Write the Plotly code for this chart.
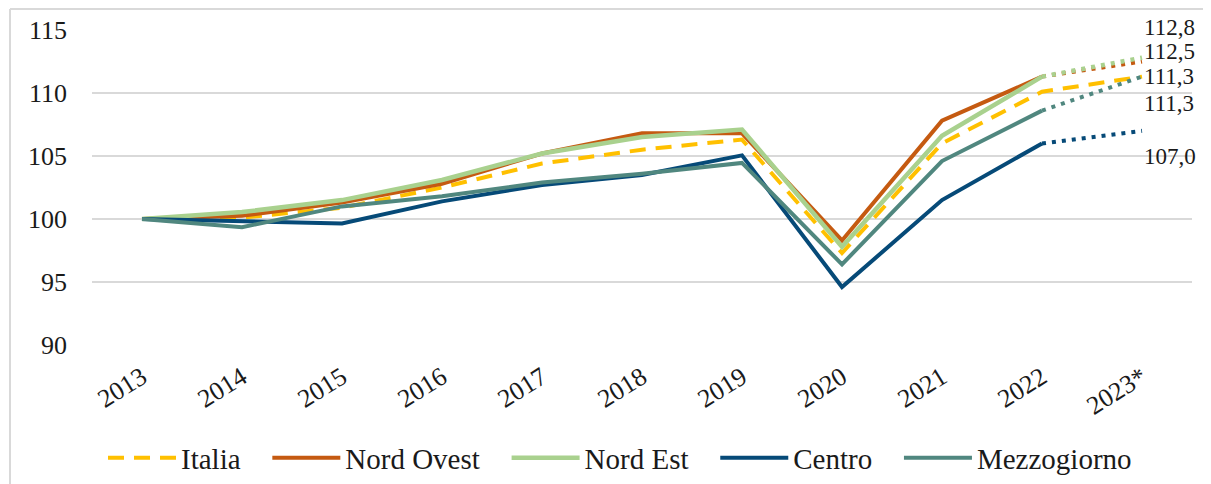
import plotly.graph_objects as go

anni = ["2013", "2014", "2015", "2016", "2017", "2018", "2019", "2020", "2021", "2022", "2023*"]

italia = [100, 100.1, 100.9, 102.5, 104.4, 105.5, 106.3, 97.3, 106.0, 110.1, 111.3]
nord_ovest = [100, 100.25, 101.3, 102.8, 105.2, 106.8, 106.8, 98.3, 107.8, 111.3, 112.5]
nord_est = [100, 100.55, 101.5, 103.1, 105.2, 106.5, 107.1, 97.8, 106.6, 111.3, 112.8]
centro = [100, 99.8, 99.65, 101.4, 102.7, 103.5, 105.05, 94.6, 101.5, 106.0, 107.0]
mezzogiorno = [100, 99.35, 101.0, 101.8, 102.9, 103.6, 104.45, 96.4, 104.6, 108.6, 111.3]

tick_y = [90, 95, 100, 105, 110, 115]

FONT = "Liberation Serif"
TXT = "#1a1a1a"

serie = [
    ("Italia", italia, "#FFC000", 4, "16px,10px"),
    ("Nord Ovest", nord_ovest, "#C55A11", 4, "solid"),
    ("Nord Est", nord_est, "#A9D18E", 4.5, "solid"),
    ("Centro", centro, "#064A78", 4, "solid"),
    ("Mezzogiorno", mezzogiorno, "#50877F", 4, "solid"),
]

# label spostate a mano come nell'originale
spost_label = {"Italia": 0, "Nord Ovest": 10, "Nord Est": 30, "Centro": -26, "Mezzogiorno": -27}

# la pagina html ha 8px di margine sul body: tutto spostato di 8
OFF = 8
W, H = 1211 - OFF, 484 - OFF
L, R, T, B = 92 - OFF, 1192 - OFF, 30 - OFF, 345 - OFF

fig = go.Figure()

spazio = "\u00a0\u00a0\u00a0"
for nome, valori, colore, spess, tratto in serie:
    if tratto == "solid":
        # parte consolidata piena, stima 2023 puntinata
        fig.add_trace(go.Scatter(x=anni[:-1], y=valori[:-1], mode="lines", name=nome + spazio,
                                 line=dict(color=colore, width=spess)))
        fig.add_trace(go.Scatter(x=anni[-2:], y=valori[-2:], mode="lines", showlegend=False,
                                 hoverinfo="skip",
                                 line=dict(color=colore, width=spess, dash="4px,6px")))
    else:
        fig.add_trace(go.Scatter(x=anni, y=valori, mode="lines", name=nome + spazio,
                                 line=dict(color=colore, width=spess, dash=tratto)))

for nome, valori, colore, spess, tratto in serie:
    fig.add_annotation(x=anni[-1], y=valori[-1], xref="x", yref="y",
                       text=f"{valori[-1]:.1f}".replace(".", ","),
                       showarrow=False, xanchor="left", yanchor="middle",
                       xshift=1, yshift=spost_label[nome], borderpad=0,
                       font=dict(family=FONT, size=23, color=TXT))

# cornice e pezzo di tabella sopra
def px_x(p):
    return (p - OFF - L) / (R - L)

def px_y(p):
    return (B - (p - OFF)) / (B - T)

bordo = "#D9D9D9"
fig.add_shape(type="line", xref="paper", yref="paper", x0=px_x(10), x1=px_x(1211),
              y0=px_y(9), y1=px_y(9), line=dict(color=bordo, width=2))
fig.add_shape(type="line", xref="paper", yref="paper", x0=px_x(10), x1=px_x(10),
              y0=px_y(9), y1=px_y(484), line=dict(color=bordo, width=2))
fig.add_shape(type="line", xref="paper", yref="paper", x0=px_x(43), x1=px_x(1211),
              y0=px_y(3), y1=px_y(3), line=dict(color=bordo, width=1))
for xx in [43, 273, 359, 445, 531, 618, 703, 790, 877, 962, 1049, 1136]:
    fig.add_shape(type="line", xref="paper", yref="paper", x0=px_x(xx), x1=px_x(xx),
                  y0=px_y(0), y1=px_y(3), line=dict(color=bordo, width=1))

fig.update_layout(
    width=W, height=H,
    margin=dict(l=L, r=W - R, t=T, b=H - B, autoexpand=False),
    plot_bgcolor="white", paper_bgcolor="white",
    font=dict(family=FONT, size=26, color=TXT),
    showlegend=True,
    legend=dict(orientation="h", x=0.49, xanchor="center",
                yref="container", y=1 - (458 - OFF) / H, yanchor="middle",
                font=dict(family=FONT, size=29, color=TXT), itemwidth=68,
                traceorder="normal"),
    xaxis=dict(type="category", range=[-0.5, 10.5], showgrid=False, showline=False,
               zeroline=False, ticks="", tickangle=-32, ticklabelstandoff=11,
               automargin=False,
               tickfont=dict(family=FONT, size=26, color=TXT)),
    yaxis=dict(range=[90, 115], tickvals=tick_y, showgrid=True, gridcolor="#D9D9D9",
               gridwidth=2, zeroline=False, showline=False, ticks="",
               ticklabelstandoff=24, automargin=False,
               tickfont=dict(family=FONT, size=26, color=TXT)),
)

fig.write_html("out.html")
